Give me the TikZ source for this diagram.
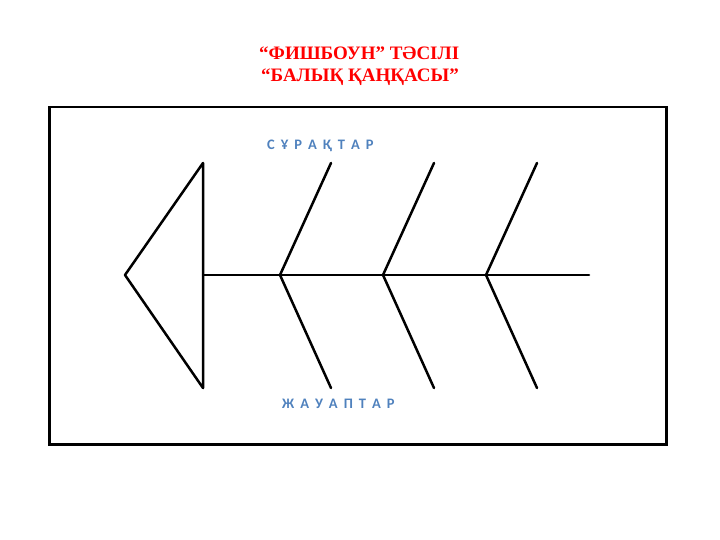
\documentclass[tikz,border=0pt]{standalone}
\usepackage{fontspec}
\setmainfont{Liberation Serif}
\newfontfamily\lblfont{Carlito}
\newcommand{\lgap}{\hspace{6pt}}
\begin{document}
\begin{tikzpicture}[x=1pt,y=-1pt,
  bone/.style={line width=2.5pt,line cap=round,line join=round},
  lbl/.style={font=\lblfont\bfseries\fontsize{14.5}{16}\selectfont,text=lblblue,inner sep=0pt,anchor=base west},
  ttl/.style={font=\bfseries\fontsize{19}{22}\selectfont,text=red,inner sep=0pt,anchor=base west}]
\definecolor{lblblue}{RGB}{79,129,189}
\useasboundingbox (0,0) rectangle (720,540);
\node[ttl] (title1) at (259,60) {“ФИШБОУН” ТӘСІЛІ};
\node[ttl] (title2) at (261,82) {“БАЛЫҚ ҚАҢҚАСЫ”};
\node[draw,line width=2.5pt,minimum width=617pt,minimum height=337pt,anchor=north west,inner sep=0pt] (frame) at (48,106) {};
\coordinate (tip) at (125,275);
\coordinate (htop) at (203,163);
\coordinate (hbot) at (203,388);
\coordinate (hmid) at (203,275);
\coordinate (tail) at (589,275);
\draw[bone] (hbot) -- (tip) -- (htop) -- (hbot);
\draw[bone] (hmid) -- (tail);
\foreach \i/\x in {1/280,2/383,3/486}{
  \coordinate (j\i) at (\x,275);
  \coordinate (u\i) at (\x+51,163);
  \coordinate (d\i) at (\x+51,388);
  \draw[bone] (u\i) -- (j\i) -- (d\i);
}
\node[lbl] (q) at (267,150) {С\lgap Ұ\lgap Р\lgap А\lgap Қ\lgap Т\lgap А\lgap Р};
\node[lbl] (a) at (282,408) {Ж\lgap А\lgap У\lgap А\lgap П\lgap Т\lgap А\lgap Р};
\end{tikzpicture}
\end{document}
